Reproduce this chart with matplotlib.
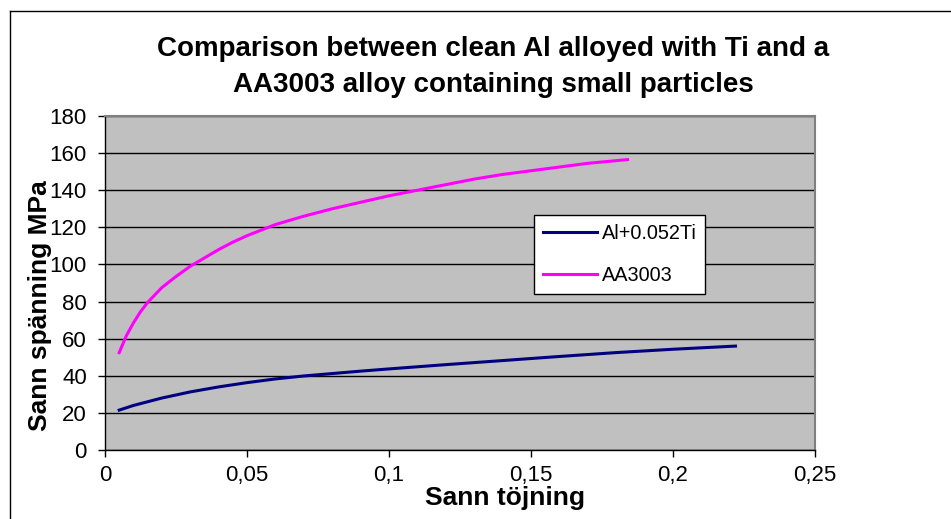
import matplotlib.pyplot as plt
from matplotlib.lines import Line2D

plt.rcParams['font.family'] = ['Liberation Sans', 'DejaVu Sans']

# True strain / true stress curves
strain_ti = [0.005, 0.01, 0.02, 0.03, 0.04, 0.05, 0.06, 0.07, 0.08, 0.09,
             0.1, 0.12, 0.14, 0.16, 0.18, 0.2, 0.222]
stress_ti = [21.5, 24.0, 28.0, 31.3, 34.0, 36.3, 38.3, 39.9, 41.2, 42.5,
             43.7, 46.0, 48.2, 50.4, 52.5, 54.3, 56.0]

strain_aa = [0.005, 0.0075, 0.01, 0.0125, 0.015, 0.02, 0.025, 0.03, 0.035,
             0.04, 0.045, 0.05, 0.06, 0.07, 0.08, 0.09, 0.1, 0.11, 0.12,
             0.13, 0.14, 0.15, 0.16, 0.17, 0.184]
stress_aa = [52.5, 61.5, 68.5, 74.5, 79.5, 87.5, 93.5, 99.0, 103.5,
             108.0, 112.0, 115.5, 121.5, 126.0, 130.0, 133.5, 137.0, 140.0, 143.0,
             146.0, 148.5, 150.5, 152.5, 154.5, 156.5]

xticks = [0, 0.05, 0.1, 0.15, 0.2, 0.25]
xtick_labels = ['0', '0,05', '0,1', '0,15', '0,2', '0,25']
yticks = list(range(0, 181, 20))

W, H = 951, 519
fig = plt.figure(figsize=(W / 100, H / 100), dpi=100)
fig.patch.set_facecolor('white')

# plot area in pixels: left 105, right 815, top 116, bottom 450
ax = fig.add_axes([105 / W, 1 - 450 / H, (815 - 105) / W, (450 - 116) / H])
ax.set_facecolor('#C0C0C0')

ax.plot(strain_ti, stress_ti, color='#000080', lw=2.2, label='Al+0.052Ti')
ax.plot(strain_aa, stress_aa, color='#FF00FF', lw=2.2, label='AA3003')

ax.set_xlim(0, 0.25)
ax.set_ylim(0, 180)
ax.set_xticks(xticks)
ax.set_xticklabels(xtick_labels)
ax.set_yticks(yticks)
ax.yaxis.grid(True, color='black', lw=1)
ax.set_axisbelow(True)

for side in ('top', 'right'):
    ax.spines[side].set_color('#808080')
    ax.spines[side].set_linewidth(1.5)
for side in ('left', 'bottom'):
    ax.spines[side].set_color('black')
    ax.spines[side].set_linewidth(1)

ax.tick_params(axis='both', direction='out', length=5, width=1,
               labelsize=16, colors='black')
ax.tick_params(axis='y', pad=8)
ax.tick_params(axis='x', pad=6)

ax.set_xlabel('Sann töjning', fontsize=19, fontweight='bold')
ax.set_ylabel('Sann spänning MPa', fontsize=19, fontweight='bold')
ax.xaxis.set_label_coords(0.5634, -0.108)
ax.yaxis.set_label_coords(-0.0746, 0.431)

fig.text(493 / W, 1 - 67 / H,
         'Comparison between clean Al alloyed with Ti and a\n'
         'AA3003 alloy containing small particles',
         fontsize=20, fontweight='bold', ha='center', va='center',
         linespacing=1.5)

leg = ax.legend(loc='upper left', bbox_to_anchor=((534 - 105) / 710, (450 - 215) / 334),
                fontsize=14.3, frameon=True, fancybox=False, borderpad=0.45,
                handlelength=2.7, labelspacing=1.15, handletextpad=0.25,
                borderaxespad=0)
leg.get_frame().set_edgecolor('black')
leg.get_frame().set_facecolor('white')
leg.get_frame().set_alpha(1)
leg.get_frame().set_linewidth(1)

# outer chart border
fig.add_artist(Line2D([10 / W, 1.0], [1 - 11 / H, 1 - 11 / H], color='black', lw=1))
fig.add_artist(Line2D([10 / W, 10 / W], [0, 1 - 11 / H], color='black', lw=1))

fig.savefig('out.png', dpi=100)
